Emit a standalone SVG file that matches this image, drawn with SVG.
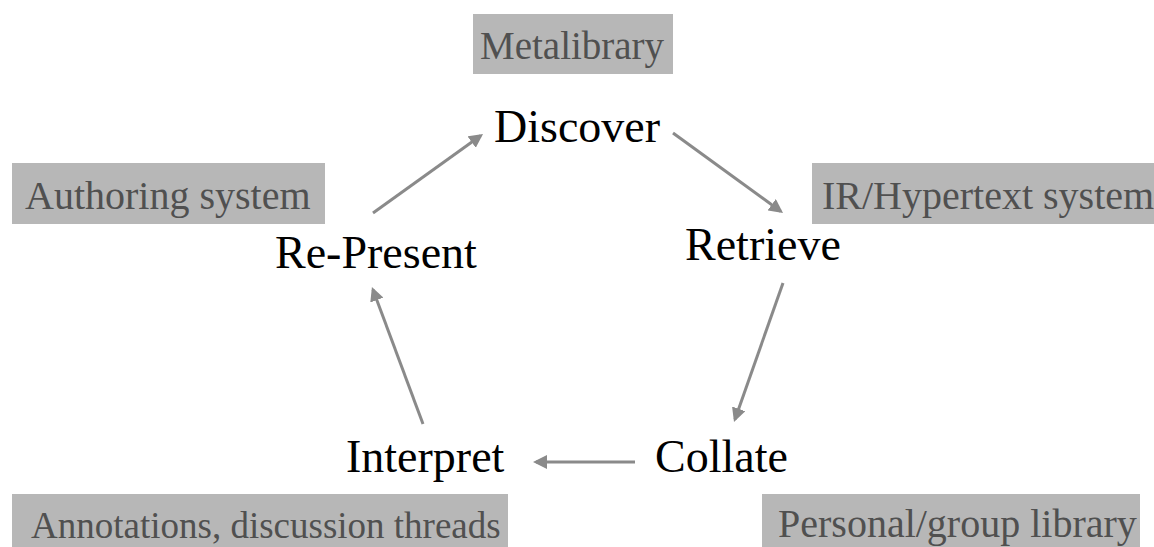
<svg xmlns="http://www.w3.org/2000/svg" width="1154" height="547" viewBox="0 0 1154 547">
  <style>
    .box { fill: #b7b7b7; }
    .tag { font-family: "Liberation Serif", "Times New Roman", serif; fill: #505050; }
    .stage { font-family: "Liberation Serif", "Times New Roman", serif; font-size: 46px; fill: #000000; }
    .conn { stroke: #8a8a8a; stroke-width: 3; fill: none; marker-end: url(#arrow); }
  </style>
  <defs>
    <marker id="arrow" markerUnits="userSpaceOnUse" markerWidth="16" markerHeight="14" refX="11" refY="7" orient="auto">
      <path d="M0,0 L14,7 L0,14 Z" fill="#8a8a8a"/>
    </marker>
  </defs>
  <rect width="1154" height="547" fill="#ffffff"/>

  <g id="metalibrary">
    <rect class="box" x="473" y="14" width="200" height="60"/>
    <text class="tag" x="480" y="59" font-size="39">Metalibrary</text>
  </g>
  <g id="authoring-system">
    <rect class="box" x="12" y="163" width="313" height="61"/>
    <text class="tag" x="25" y="209" font-size="40">Authoring system</text>
  </g>
  <g id="ir-hypertext-system">
    <rect class="box" x="812" y="163" width="342" height="61"/>
    <text class="tag" x="822" y="209" font-size="40">IR/Hypertext system</text>
  </g>
  <g id="annotations">
    <rect class="box" x="12" y="494" width="496" height="53"/>
    <text class="tag" x="31" y="538" font-size="37">Annotations, discussion threads</text>
  </g>
  <g id="personal-group-library">
    <rect class="box" x="762" y="494" width="378" height="53"/>
    <text class="tag" x="778" y="537" font-size="40">Personal/group library</text>
  </g>

  <g id="discover"><text class="stage" x="494" y="142">Discover</text></g>
  <g id="retrieve"><text class="stage" x="685" y="260">Retrieve</text></g>
  <g id="collate"><text class="stage" x="655" y="472">Collate</text></g>
  <g id="interpret"><text class="stage" x="346" y="472">Interpret</text></g>
  <g id="re-present"><text class="stage" x="275" y="268">Re-Present</text></g>

  <g id="connectors">
    <line class="conn" x1="373" y1="213" x2="480.6" y2="135.7"/>
    <line class="conn" x1="673" y1="133" x2="780.6" y2="211.2"/>
    <line class="conn" x1="783" y1="283" x2="735" y2="419.2"/>
    <line class="conn" x1="635" y1="462" x2="536" y2="462"/>
    <line class="conn" x1="423" y1="424" x2="373" y2="289.8"/>
  </g>
</svg>
